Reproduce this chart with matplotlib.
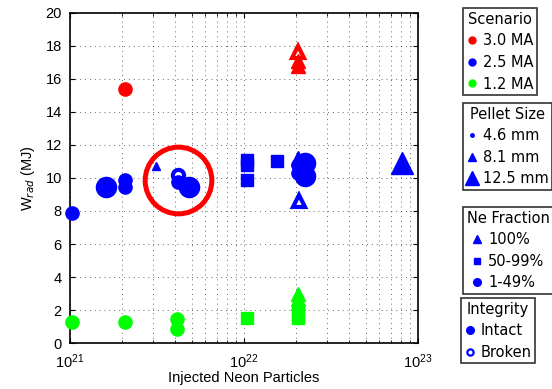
import matplotlib.pyplot as plt
from matplotlib.lines import Line2D

# one row per shot: particles, W_rad, scenario current, pellet size, Ne fraction, broken?
neon = [2.07e21, 2.04e22, 2.04e22, 2.04e22,
        1.02e21, 1.61e21, 2.07e21, 2.07e21, 3.12e21, 4.17e21, 4.17e21, 4.83e21,
        1.04e22, 1.04e22, 1.04e22, 1.55e22, 2.04e22, 2.04e22, 2.04e22, 2.24e22,
        2.24e22, 2.06e22, 8.1e22,
        1.02e21, 2.07e21, 4.12e21, 4.12e21, 1.04e22, 2.04e22, 2.04e22, 2.04e22,
        2.04e22, 2.04e22]
wrad = [15.4, 17.6, 17.1, 16.8,
        7.85, 9.45, 9.9, 9.45, 10.7, 10.15, 9.75, 9.45,
        11.1, 10.8, 9.85, 11.0, 11.2, 10.8, 10.3, 10.9,
        10.1, 8.6, 10.9,
        1.25, 1.3, 1.45, 0.85, 1.5, 3.0, 2.7, 2.4,
        1.9, 1.5]
scenario = ['3.0', '3.0', '3.0', '3.0',
            '2.5', '2.5', '2.5', '2.5', '2.5', '2.5', '2.5', '2.5',
            '2.5', '2.5', '2.5', '2.5', '2.5', '2.5', '2.5', '2.5',
            '2.5', '2.5', '2.5',
            '1.2', '1.2', '1.2', '1.2', '1.2', '1.2', '1.2', '1.2',
            '1.2', '1.2']
pellet = [8.1, 8.1, 8.1, 8.1,
          8.1, 12.5, 8.1, 8.1, 4.6, 8.1, 8.1, 12.5,
          8.1, 8.1, 8.1, 8.1, 8.1, 8.1, 8.1, 12.5,
          12.5, 8.1, 12.5,
          8.1, 8.1, 8.1, 8.1, 8.1, 8.1, 8.1, 8.1,
          8.1, 8.1]
fraction = ['c', 't', 't', 't',
            'c', 'c', 'c', 'c', 't', 'c', 'c', 'c',
            's', 's', 's', 's', 't', 'c', 'c', 'c',
            'c', 't', 't',
            'c', 'c', 'c', 'c', 's', 't', 't', 't',
            's', 's']
broken = [False, True, False, False,
          False, False, False, False, False, True, False, False,
          False, False, False, False, False, False, False, False,
          False, True, False,
          False, False, False, False, False, False, False, False,
          False, False]

highlight = (4.15e21, 9.9)

colors = {'3.0': 'red', '2.5': 'blue', '1.2': 'lime'}
markers = {'t': '^', 's': 's', 'c': 'o'}
msize = {4.6: 5, 8.1: 9.5, 12.5: 14.5}
mscale = {'t': 1.1, 's': 0.85, 'c': 1.0}

fig = plt.figure(figsize=(5.52, 3.89), dpi=100)
ax = fig.add_axes([0.127, 0.118, 0.63, 0.849])

for x, y, sc, p, f, b in zip(neon, wrad, scenario, pellet, fraction, broken):
    c = colors[sc]
    ax.plot(x, y, marker=markers[f], ms=msize[p] * mscale[f] * (0.85 if b else 1),
            color=c, mfc='white' if b else c, mec=c, mew=3 if b else 1,
            ls='none', clip_on=False, zorder=3)

ax.plot(*highlight, marker='o', ms=48, mfc='none', mec='red', mew=3.6,
        ls='none', zorder=4)

ax.set_xscale('log')
ax.set_xlim(1e21, 1e23)
ax.set_ylim(0, 20)
ax.set_yticks(range(0, 21, 2))
ax.tick_params(which='both', direction='in', top=True, right=True, labelsize=10.5)
ax.tick_params(axis='x', pad=7)
ax.tick_params(axis='y', pad=6)
ax.grid(which='major', ls=(0, (1, 4)), color='k', lw=0.7, alpha=0.6)
ax.grid(which='minor', axis='x', ls=(0, (1, 4)), color='k', lw=0.7, alpha=0.6)
for s in ax.spines.values():
    s.set_linewidth(1.2)
ax.set_xlabel('Injected Neon Particles', fontsize=10.5, family='Liberation Sans', labelpad=0)
ax.set_ylabel('W$_{rad}$ (MJ)', fontsize=10.5, family='Liberation Sans', labelpad=6)
for lab in ax.get_xticklabels() + ax.get_yticklabels():
    lab.set_family('Liberation Sans')


def h(marker, ms, mfc='blue', mec='blue', mew=1):
    return Line2D([], [], marker=marker, ms=ms, mfc=mfc, mec=mec, mew=mew, ls='none')


leg_kw = dict(frameon=True, fancybox=False, edgecolor='black', fontsize=10.5,
              title_fontsize=10.5, handlelength=0.7, handletextpad=0.4,
              labelspacing=0.45, borderpad=0.25, borderaxespad=0, loc='upper left')

legs = [
    ([h('o', 5, 'red', 'red'), h('o', 5), h('o', 5, 'lime', 'lime')],
     ['3.0 MA', '2.5 MA', '1.2 MA'], 'Scenario', (0.839, 0.979)),
    ([h('o', 2.5), h('^', 6), h('^', 10)],
     ['4.6 mm', '8.1 mm', '12.5 mm'], 'Pellet Size', (0.839, 0.735)),
    ([h('^', 6), h('s', 4.5), h('o', 5.5)],
     ['100%', '50-99%', '1-49%'], 'Ne Fraction', (0.839, 0.468)),
    ([h('o', 5.5), h('o', 4.5, 'white', 'blue', 1.6)],
     ['Intact', 'Broken'], 'Integrity', (0.835, 0.234)),
]
for handles, labels, title, anchor in legs:
    lg = fig.legend(handles, labels, title=title, bbox_to_anchor=anchor, **leg_kw)
    lg.get_frame().set_linewidth(1.2)

fig.savefig('out.png', dpi=100)
